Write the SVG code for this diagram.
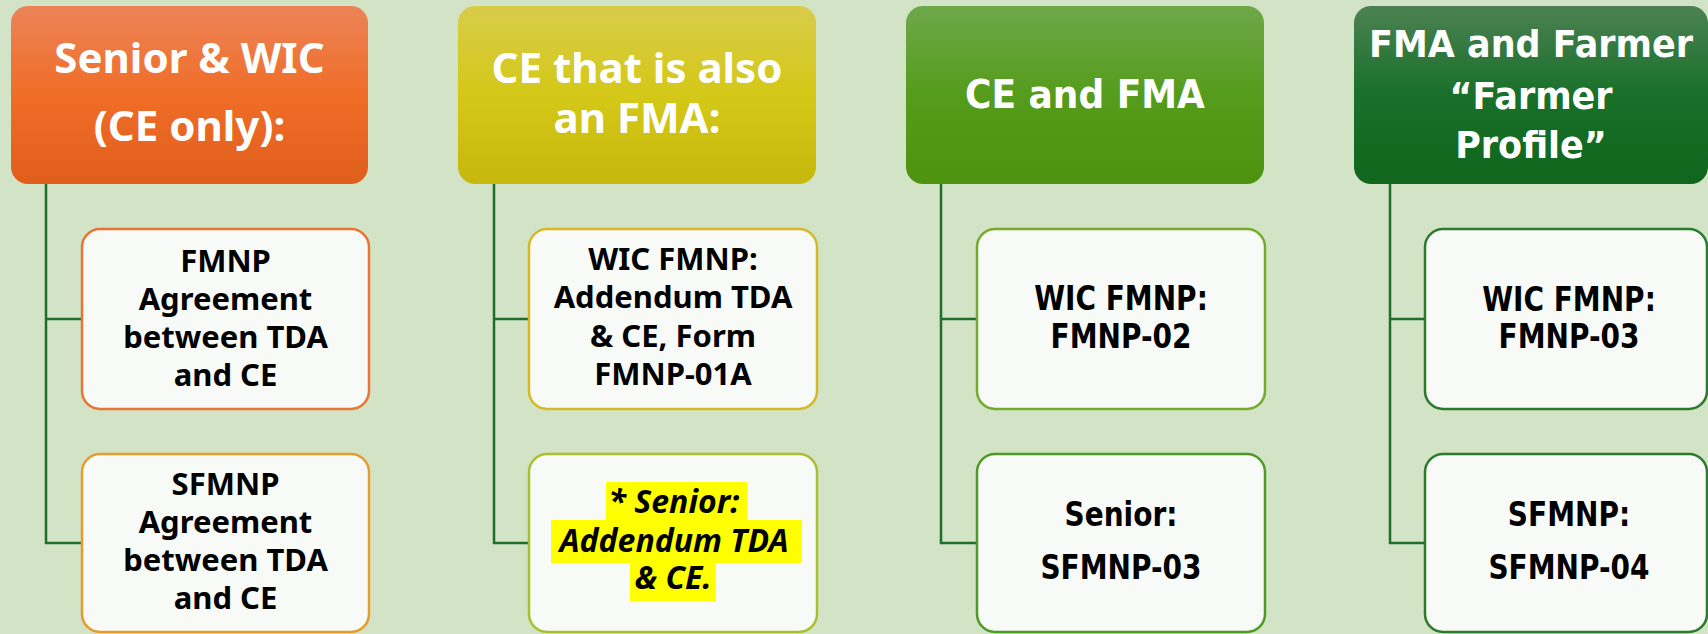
<svg xmlns="http://www.w3.org/2000/svg" width="1708" height="634" viewBox="0 0 1708 634">
<style>
.hdr{font-family:"Noto Sans","Open Sans",sans-serif;font-weight:bold;fill:#ffffff;text-anchor:middle}
.hdr2{font-family:"DejaVu Sans","Verdana",sans-serif;font-weight:bold;fill:#ffffff;text-anchor:middle}
.ch{font-family:"Noto Sans","Open Sans",sans-serif;font-weight:bold;font-size:31px;fill:#000000;text-anchor:middle}
.ch2{font-family:"DejaVu Sans","Verdana",sans-serif;font-weight:bold;font-size:28px;fill:#000000;text-anchor:middle}
.it{font-style:italic;font-size:32px}
.box{fill:#f8faf7;stroke-width:2.5}
.conn{fill:none;stroke:#1f6e2c;stroke-width:2.5}
.hl{fill:#ffff00}
</style>
<defs>
<linearGradient id="g1" x1="0" y1="0" x2="0" y2="1"><stop offset="0" stop-color="#ec8458"/><stop offset="0.5" stop-color="#f06d28"/><stop offset="1" stop-color="#e05e1c"/></linearGradient>
<linearGradient id="g2" x1="0" y1="0" x2="0" y2="1"><stop offset="0" stop-color="#d8cc4a"/><stop offset="0.5" stop-color="#d4c818"/><stop offset="1" stop-color="#c6b80c"/></linearGradient>
<linearGradient id="g3" x1="0" y1="0" x2="0" y2="1"><stop offset="0" stop-color="#6ea84a"/><stop offset="0.5" stop-color="#559c1c"/><stop offset="1" stop-color="#4d930f"/></linearGradient>
<linearGradient id="g4" x1="0" y1="0" x2="0" y2="1"><stop offset="0" stop-color="#4c8152"/><stop offset="0.5" stop-color="#18702a"/><stop offset="1" stop-color="#0f661c"/></linearGradient>
</defs>
<rect x="0" y="0" width="1708" height="634" fill="#d3e3c5"/>

<g id="connectors">
<path class="conn" d="M46 184 V543 H82 M46 319 H82"/>
<path class="conn" d="M494 184 V543 H529 M494 319 H529"/>
<path class="conn" d="M941 184 V543 H977 M941 319 H977"/>
<path class="conn" d="M1390 184 V543 H1425 M1390 319 H1425"/>
</g>

<g id="h1">
<rect x="11" y="6" width="357" height="178" rx="17" fill="url(#g1)"/>
<text class="hdr" font-size="42" x="189.5" y="73">Senior &amp; WIC</text>
<text class="hdr" font-size="42" x="189.5" y="141">(CE only):</text>
</g>
<g id="c1a">
<rect class="box" x="82" y="229" width="287" height="180" rx="18" stroke="#ea7434"/>
<text class="ch" x="225.5" y="272">FMNP</text>
<text class="ch" x="225.5" y="310">Agreement</text>
<text class="ch" x="225.5" y="348">between TDA</text>
<text class="ch" x="225.5" y="386">and CE</text>
</g>
<g id="c1b">
<rect class="box" x="82" y="454" width="287" height="178" rx="18" stroke="#e69c2a"/>
<text class="ch" x="225.5" y="495">SFMNP</text>
<text class="ch" x="225.5" y="533">Agreement</text>
<text class="ch" x="225.5" y="571">between TDA</text>
<text class="ch" x="225.5" y="609">and CE</text>
</g>

<g id="h2">
<rect x="458" y="6" width="358" height="178" rx="17" fill="url(#g2)"/>
<text class="hdr" font-size="42" x="637" y="83">CE that is also</text>
<text class="hdr" font-size="42" x="637" y="133">an FMA:</text>
</g>
<g id="c2a">
<rect class="box" x="529" y="229" width="288" height="180" rx="18" stroke="#d6b826"/>
<text class="ch" x="673" y="270">WIC FMNP:</text>
<text class="ch" x="673" y="308">Addendum TDA</text>
<text class="ch" x="673" y="347">&amp; CE, Form</text>
<text class="ch" x="673" y="385">FMNP-01A</text>
</g>
<g id="c2b">
<rect class="box" x="529" y="454" width="288" height="178" rx="18" stroke="#a9bf2e"/>
<rect class="hl" x="606" y="482" width="141" height="38"/>
<rect class="hl" x="551" y="520" width="251" height="43"/>
<rect class="hl" x="630" y="563" width="86" height="38"/>
<text class="ch it" x="674" y="513">* Senior:</text>
<text class="ch it" x="674" y="552">Addendum TDA</text>
<text class="ch it" x="673" y="589">&amp; CE.</text>
</g>

<g id="h3">
<rect x="906" y="6" width="358" height="178" rx="17" fill="url(#g3)"/>
<text class="hdr2" font-size="36" transform="translate(1085 108) scale(1 1.08)">CE and FMA</text>
</g>
<g id="c3a">
<rect class="box" x="977" y="229" width="288" height="180" rx="18" stroke="#74ab2c"/>
<text class="ch2" transform="translate(1121 310) scale(1 1.18)">WIC FMNP:</text>
<text class="ch2" transform="translate(1121 348) scale(1 1.18)">FMNP-02</text>
</g>
<g id="c3b">
<rect class="box" x="977" y="454" width="288" height="178" rx="18" stroke="#4f9a26"/>
<text class="ch2" transform="translate(1121 526) scale(1 1.18)">Senior:</text>
<text class="ch2" transform="translate(1121 579) scale(1 1.18)">SFMNP-03</text>
</g>

<g id="h4">
<rect x="1354" y="6" width="354" height="178" rx="17" fill="url(#g4)"/>
<text class="hdr2" font-size="35" transform="translate(1531 57) scale(1 1.08)">FMA and Farmer</text>
<text class="hdr2" font-size="35" transform="translate(1531 109) scale(1 1.08)">“Farmer</text>
<text class="hdr2" font-size="35" transform="translate(1531 158) scale(1 1.08)">Profile”</text>
</g>
<g id="c4a">
<rect class="box" x="1425" y="229" width="282" height="180" rx="18" stroke="#2c7a2c"/>
<text class="ch2" transform="translate(1569 311) scale(1 1.18)">WIC FMNP:</text>
<text class="ch2" transform="translate(1569 348) scale(1 1.18)">FMNP-03</text>
</g>
<g id="c4b">
<rect class="box" x="1425" y="454" width="282" height="178" rx="18" stroke="#2c7a2c"/>
<text class="ch2" transform="translate(1569 526) scale(1 1.18)">SFMNP:</text>
<text class="ch2" transform="translate(1569 579) scale(1 1.18)">SFMNP-04</text>
</g>
</svg>
